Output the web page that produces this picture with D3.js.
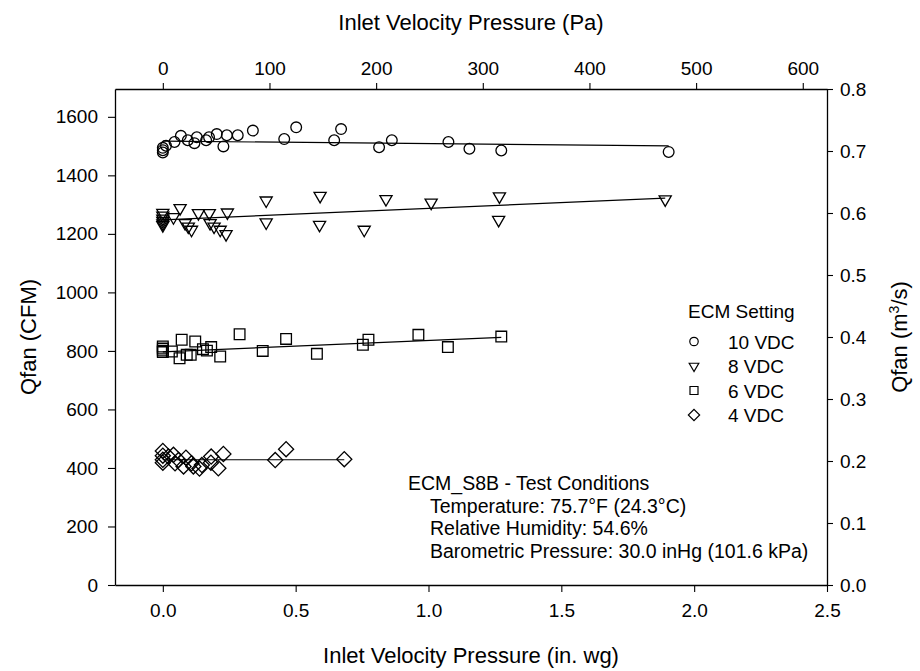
<!DOCTYPE html>
<html>
<head>
<meta charset="utf-8">
<script src="https://cdn.jsdelivr.net/npm/d3@7"></script>
<style>
  body { margin: 0; background: #fff; }
  svg text { font-family: "Liberation Sans", Arial, sans-serif; fill: #000; }
</style>
</head>
<body>
<div id="chart"></div>
<script>
// inlet velocity pressure (in. wg) and fan flow (CFM) for each ECM setting
const vdc10X = [0, 0, 0, 0.012, 0.044, 0.068, 0.094, 0.119, 0.128, 0.163, 0.174, 0.203, 0.228, 0.241, 0.282, 0.339, 0.457, 0.502, 0.645, 0.671, 0.814, 0.862, 1.075, 1.154, 1.274, 1.904];
const vdc10Y = [1478, 1486, 1494, 1501, 1514, 1535, 1520, 1510, 1530, 1520, 1530, 1541, 1499, 1537, 1537, 1553, 1524, 1564, 1520, 1558, 1496, 1520, 1514, 1491, 1485, 1480];

const vdc8X = [0, 0, 0, 0, 0, 0, 0.040, 0.065, 0.084, 0.096, 0.108, 0.134, 0.175, 0.178, 0.193, 0.216, 0.243, 0.238, 0.389, 0.389, 0.592, 0.590, 0.758, 0.840, 1.010, 1.267, 1.264, 1.891];
const vdc8Y = [1272, 1262, 1252, 1244, 1236, 1230, 1257, 1288, 1237, 1225, 1214, 1271, 1271, 1237, 1225, 1214, 1273, 1199, 1314, 1239, 1330, 1231, 1214, 1319, 1307, 1328, 1248, 1318];

const vdc6X = [0, 0, 0, 0, 0.034, 0.063, 0.071, 0.090, 0.105, 0.122, 0.151, 0.166, 0.182, 0.216, 0.289, 0.376, 0.464, 0.580, 0.753, 0.774, 0.962, 1.073, 1.274];
const vdc6Y = [815, 808, 801, 796, 798, 775, 838, 787, 787, 832, 806, 801, 813, 781, 857, 800, 841, 790, 821, 838, 855, 813, 849];

const vdc4X = [0, 0, 0, 0, 0.021, 0.040, 0.046, 0.059, 0.078, 0.087, 0.108, 0.115, 0.138, 0.147, 0.182, 0.181, 0.209, 0.228, 0.423, 0.464, 0.683];
const vdc4Y = [458, 442, 428, 418, 439, 445, 416, 427, 405, 435, 416, 405, 398, 410, 439, 418, 399, 448, 427, 464, 430];

// fitted lines: [start, end] for x and y
const fit10X = [0, 1.904], fit10Y = [1517, 1501];
const fit8X = [0, 1.891], fit8Y = [1248, 1322];
const fit6X = [0, 1.274], fit6Y = [797, 846];
const fit4X = [0, 0.683], fit4Y = [428, 428];

const seriesNames = ["10 VDC", "8 VDC", "6 VDC", "4 VDC"];
const bottomTicks = [0.0, 0.5, 1.0, 1.5, 2.0, 2.5];
const topTicks = [0, 100, 200, 300, 400, 500, 600];
const leftTicks = [0, 200, 400, 600, 800, 1000, 1200, 1400, 1600];
const rightTicks = [0.0, 0.1, 0.2, 0.3, 0.4, 0.5, 0.6, 0.7, 0.8];
const noteLines = ["ECM_S8B - Test Conditions", "Temperature: 75.7°F (24.3°C)", "Relative Humidity: 54.6%", "Barometric Pressure: 30.0 inHg (101.6 kPa)"];

const PA_PER_INWG = 249.09;
const CFM_PER_M3S = 2118.88;

var width = 920, height = 671;
var margin = {top: 89, right: 93, bottom: 86, left: 115};

var svg = d3.select("#chart").append("svg")
    .attr("width", width)
    .attr("height", height);

var x = d3.scaleLinear().domain([-0.18, 2.5]).range([margin.left, width - margin.right]);
var xPa = d3.scaleLinear().domain([-0.18 * PA_PER_INWG, 2.5 * PA_PER_INWG]).range(x.range());
var y = d3.scaleLinear().domain([0, 0.8 * CFM_PER_M3S]).range([height - margin.bottom, margin.top]);
var yM3 = d3.scaleLinear().domain([0, 0.8]).range(y.range());

function styleAxis(g) {
    g.selectAll("path").attr("stroke", "#000").attr("stroke-width", 1.3);
    g.selectAll("line").attr("stroke", "#000").attr("stroke-width", 1.1);
    g.selectAll("text").attr("font-size", 19).attr("fill", "#000");
    g.attr("font-family", null);
}

svg.append("g")
    .attr("transform", "translate(0," + (height - margin.bottom) + ")")
    .call(d3.axisBottom(x).tickValues(bottomTicks).tickFormat(d3.format(".1f")).tickSizeInner(7).tickSizeOuter(0).tickPadding(12))
    .call(styleAxis);

svg.append("g")
    .attr("transform", "translate(0," + margin.top + ")")
    .call(d3.axisTop(xPa).tickValues(topTicks).tickFormat(d3.format("d")).tickSizeInner(6).tickSizeOuter(0).tickPadding(8))
    .call(styleAxis);

svg.append("g")
    .attr("transform", "translate(" + margin.left + ",0)")
    .call(d3.axisLeft(y).tickValues(leftTicks).tickFormat(d3.format("d")).tickSizeInner(7).tickSizeOuter(0).tickPadding(10))
    .call(styleAxis);

svg.append("g")
    .attr("transform", "translate(" + (width - margin.right) + ",0)")
    .call(d3.axisRight(yM3).tickValues(rightTicks).tickFormat(d3.format(".1f")).tickSizeInner(6).tickSizeOuter(0).tickPadding(7))
    .call(styleAxis);

// axis titles
svg.append("text")
    .attr("x", (margin.left + width - margin.right) / 2)
    .attr("y", 30)
    .attr("text-anchor", "middle")
    .attr("font-size", 22)
    .text("Inlet Velocity Pressure (Pa)");

svg.append("text")
    .attr("x", (margin.left + width - margin.right) / 2)
    .attr("y", 663)
    .attr("text-anchor", "middle")
    .attr("font-size", 22)
    .text("Inlet Velocity Pressure (in. wg)");

svg.append("text")
    .attr("transform", "translate(36," + (margin.top + height - margin.bottom) / 2 + ") rotate(-90)")
    .attr("text-anchor", "middle")
    .attr("font-size", 22)
    .text("Qfan (CFM)");

var rTitle = svg.append("text")
    .attr("transform", "translate(907," + (margin.top + height - margin.bottom) / 2 + ") rotate(-90)")
    .attr("text-anchor", "middle")
    .attr("font-size", 22);
rTitle.append("tspan").text("Qfan (m");
rTitle.append("tspan").attr("font-size", 14).attr("dy", -8).text("3");
rTitle.append("tspan").attr("dy", 8).text("/s)");

// symbols
var shapes = [
    d3.symbol().type(d3.symbolCircle).size(90),
    d3.symbol().type(d3.symbolTriangle).size(64),
    d3.symbol().type(d3.symbolSquare).size(114),
    d3.symbol().type(d3.symbolSquare).size(114)
];
var rotations = [0, 180, 0, 45];

var series = [
    {xs: vdc10X, ys: vdc10Y, fx: fit10X, fy: fit10Y},
    {xs: vdc8X, ys: vdc8Y, fx: fit8X, fy: fit8Y},
    {xs: vdc6X, ys: vdc6Y, fx: fit6X, fy: fit6Y},
    {xs: vdc4X, ys: vdc4Y, fx: fit4X, fy: fit4Y}
];

var line = d3.line().x(d => x(d[0])).y(d => y(d[1]));

series.forEach(function (s, k) {
    svg.append("path")
        .datum(d3.zip(s.fx, s.fy))
        .attr("d", line)
        .attr("fill", "none")
        .attr("stroke", "#000")
        .attr("stroke-width", 1.2);

    svg.append("g").selectAll("path")
        .data(d3.zip(s.xs, s.ys))
        .enter()
        .append("path")
        .attr("d", shapes[k])
        .attr("transform", d => "translate(" + x(d[0]) + "," + y(d[1]) + ") rotate(" + rotations[k] + ")")
        .attr("fill", "none")
        .attr("stroke", "#000")
        .attr("stroke-width", 1.3);
});

// legend
var legend = svg.append("g");
legend.append("text")
    .attr("x", 688)
    .attr("y", 318)
    .attr("font-size", 19)
    .text("ECM Setting");

var legendShapes = [
    d3.symbol().type(d3.symbolCircle).size(56),
    d3.symbol().type(d3.symbolTriangle).size(40),
    d3.symbol().type(d3.symbolSquare).size(64),
    d3.symbol().type(d3.symbolSquare).size(64)
];
seriesNames.forEach(function (name, i) {
    var cy = 341.5 + i * 24.5;
    legend.append("path")
        .attr("d", legendShapes[i])
        .attr("transform", "translate(694," + cy + ") rotate(" + rotations[i] + ")")
        .attr("fill", "none")
        .attr("stroke", "#000")
        .attr("stroke-width", 1.2);
    legend.append("text")
        .attr("x", 728)
        .attr("y", cy + 7)
        .attr("font-size", 19)
        .text(name);
});

// test conditions note
svg.append("g").selectAll("text")
    .data(noteLines)
    .enter()
    .append("text")
    .attr("x", (d, i) => i === 0 ? 408 : 430)
    .attr("y", (d, i) => 490 + i * 22.7)
    .attr("font-size", 19.5)
    .text(d => d);
</script>
</body>
</html>
